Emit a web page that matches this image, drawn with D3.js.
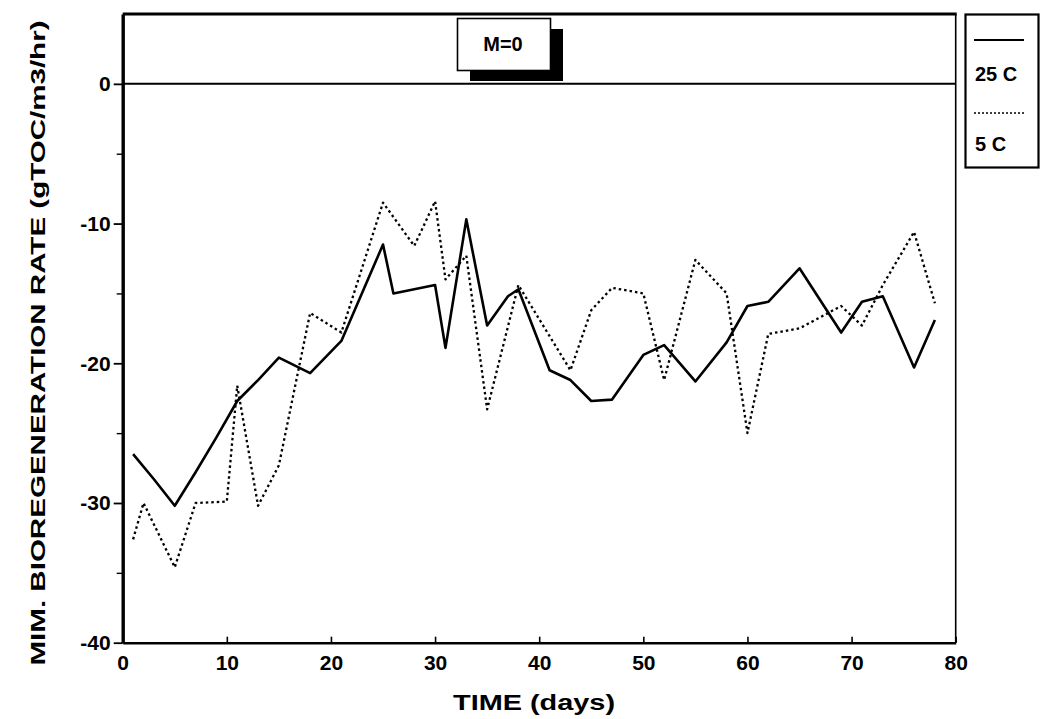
<!DOCTYPE html>
<html>
<head>
<meta charset="utf-8">
<script src="https://cdn.jsdelivr.net/npm/d3@7"></script>
<style>
  body { margin: 0; background: #fff; }
  svg { display: block; font-family: "Liberation Sans", Arial, sans-serif; }
</style>
</head>
<body>
<svg id="chart" width="1041" height="719"></svg>
<script>
// ---- data ----
const days25 = [1, 3, 5, 7, 9, 11, 13, 15, 18, 21, 25, 26, 30, 31, 33, 35, 37, 38, 41, 43, 45, 47, 50, 52, 55, 58, 60, 62, 65, 69, 71, 73, 76, 78];
const rate25 = [-26.5, -28.3, -30.2, -27.8, -25.3, -22.7, -21.2, -19.6, -20.7, -18.4, -11.5, -15.0, -14.4, -18.9, -9.7, -17.3, -15.2, -14.7, -20.5, -21.2, -22.7, -22.6, -19.4, -18.7, -21.3, -18.5, -15.9, -15.6, -13.2, -17.8, -15.6, -15.2, -20.3, -16.9];
const days5 = [1, 2, 5, 7, 10, 11, 13, 15, 18, 21, 25, 28, 30, 31, 33, 35, 38, 43, 45, 47, 50, 52, 55, 58, 60, 62, 65, 69, 71, 73, 76, 78];
const rate5 = [-32.6, -30.0, -34.6, -30.0, -29.9, -21.6, -30.2, -27.3, -16.4, -17.8, -8.5, -11.6, -8.4, -14.0, -12.3, -23.3, -14.4, -20.5, -16.2, -14.6, -15.0, -21.2, -12.6, -15.0, -25.0, -17.9, -17.5, -15.9, -17.3, -14.4, -10.6, -15.7];
const xTicks = [0, 10, 20, 30, 40, 50, 60, 70, 80];
const yTicks = [0, -10, -20, -30, -40];
const yMinorTicks = [-5, -15, -25, -35];
const seriesNames = ["25 C", "5 C"];
const annotation = "M=0";
const xTitle = "TIME  (days)";
const yTitle = "MIM. BIOREGENERATION RATE  (gTOC/m3/hr)";

const series = [
  { name: seriesNames[0], pts: days25.map((d, i) => [d, rate25[i]]), dash: null, width: 2.6 },
  { name: seriesNames[1], pts: days5.map((d, i) => [d, rate5[i]]), dash: "2.5,3", width: 2.3 }
];

const svg = d3.select("#chart");
const L = 122.7, R = 955.7, T = 14, B = 642.7;
const x = d3.scaleLinear().domain([0, 80]).range([L, R]);
const y = d3.scaleLinear().domain([-40, 5]).range([B, T]);

// frame
svg.append("line").attr("x1", L).attr("x2", R + 1).attr("y1", T).attr("y2", T).attr("stroke", "#000").attr("stroke-width", 3.2);
svg.append("line").attr("x1", R).attr("x2", R).attr("y1", T).attr("y2", B).attr("stroke", "#000").attr("stroke-width", 1.6);
svg.append("line").attr("x1", L).attr("x2", R).attr("y1", y(0)).attr("y2", y(0)).attr("stroke", "#000").attr("stroke-width", 2);

// x axis
const xAxis = svg.append("g").attr("transform", `translate(0,${B})`)
  .call(d3.axisBottom(x).tickValues(xTicks).tickSize(-6).tickSizeOuter(0).tickPadding(12));
xAxis.select(".domain").attr("stroke-width", 2.4);
xAxis.selectAll(".tick line").attr("stroke-width", 1.6);
xAxis.selectAll(".tick text").attr("font-size", 21).attr("font-weight", "bold").attr("fill", "#000")
  .attr("dy", "0.72em");

// y axis
const yAxis = svg.append("g").attr("transform", `translate(${L},0)`)
  .call(d3.axisLeft(y).tickValues(yTicks).tickSize(9).tickSizeOuter(0).tickPadding(3).tickFormat(d3.format("d")));
yAxis.select(".domain").attr("stroke-width", 3.4);
yAxis.selectAll(".tick line").attr("stroke-width", 1.8);
yAxis.selectAll(".tick text").attr("font-size", 21).attr("font-weight", "bold").attr("fill", "#000")
  .text(d => d < 0 ? "-" + Math.abs(d) : d);
svg.append("g").attr("transform", `translate(${L},0)`)
  .call(d3.axisLeft(y).tickValues(yMinorTicks).tickSize(6).tickFormat(""))
  .call(g => g.select(".domain").remove())
  .selectAll(".tick line").attr("stroke-width", 1.4);

// lines
const line = d3.line().x(d => x(d[0])).y(d => y(d[1]));
series.forEach(s => {
  svg.append("path").datum(s.pts).attr("d", line)
    .attr("fill", "none").attr("stroke", "#000")
    .attr("stroke-width", s.width)
    .attr("stroke-dasharray", s.dash)
    .attr("stroke-linejoin", "round");
});

// annotation box with shadow
svg.append("rect").attr("x", 470).attr("y", 29).attr("width", 93).attr("height", 52).attr("fill", "#000");
svg.append("rect").attr("x", 457.5).attr("y", 18.5).attr("width", 93).attr("height", 52)
  .attr("fill", "#fff").attr("stroke", "#000").attr("stroke-width", 1.6);
svg.append("text").attr("x", 503).attr("y", 51).attr("text-anchor", "middle")
  .attr("font-size", 20).attr("font-weight", "bold").text(annotation);

// legend
svg.append("rect").attr("x", 965.5).attr("y", 14.5).attr("width", 73).attr("height", 153)
  .attr("fill", "#fff").attr("stroke", "#000").attr("stroke-width", 2.2);
const lg = [{ ly: 40, ty: 81 }, { ly: 113, ty: 151 }];
series.forEach((s, i) => {
  svg.append("line").attr("x1", 974).attr("x2", 1024).attr("y1", lg[i].ly).attr("y2", lg[i].ly)
    .attr("stroke", "#000").attr("stroke-width", i === 0 ? 1.8 : 1.6)
    .attr("stroke-dasharray", i === 0 ? null : "2,2");
  svg.append("text").attr("x", 975).attr("y", lg[i].ty)
    .attr("font-size", 20).attr("font-weight", "bold").text(s.name);
});

// axis titles
svg.append("text").attr("x", (453 + 615) / 2).attr("y", 710).attr("text-anchor", "middle")
  .attr("font-size", 22).attr("font-weight", "bold")
  .attr("textLength", 162).attr("lengthAdjust", "spacingAndGlyphs").text(xTitle);
svg.append("text").attr("transform", "translate(45,343) rotate(-90)").attr("text-anchor", "middle")
  .attr("font-size", 20).attr("font-weight", "bold")
  .attr("textLength", 645).attr("lengthAdjust", "spacingAndGlyphs").text(yTitle);
</script>
</body>
</html>
